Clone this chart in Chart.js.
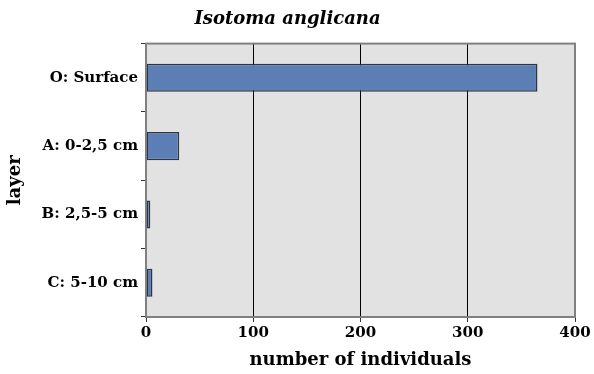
<!DOCTYPE html>
<html>
<head>
<meta charset="utf-8">
<script src="https://cdn.jsdelivr.net/npm/chart.js@4.4.1/dist/chart.umd.min.js"></script>
<style>
  html, body { margin: 0; padding: 0; background: #fff; }
  #wrap { width: 594px; height: 374px; }
</style>
</head>
<body>
<div id="wrap"><canvas id="chart" width="594" height="374"></canvas></div>
<script>
const layers = ['O: Surface', 'A: 0-2,5 cm', 'B: 2,5-5 cm', 'C: 5-10 cm'];
const individuals = [365, 31, 4, 6];
const xTicks = [0, 100, 200, 300, 400];

const serif = "'DejaVu Serif', serif";
const frameColor = '#808080';

// grey plot background and frame around the chart area
const plotFrame = {
  id: 'plotFrame',
  beforeDraw(chart) {
    const { ctx, chartArea: a } = chart;
    ctx.save();
    ctx.fillStyle = '#e2e2e2';
    ctx.fillRect(a.left, a.top, a.right - a.left, a.bottom - a.top);
    ctx.restore();
  },
  afterDatasetsDraw(chart) {
    const { ctx, chartArea: a } = chart;
    ctx.save();
    ctx.strokeStyle = frameColor;
    ctx.lineWidth = 2;
    ctx.strokeRect(a.left, a.top, a.right - a.left, a.bottom - a.top);
    ctx.restore();
  }
};

const ctx = document.getElementById('chart').getContext('2d');
new Chart(ctx, {
  type: 'bar',
  data: {
    labels: layers,
    datasets: [{
      data: individuals,
      backgroundColor: '#5b7fb5',
      borderColor: '#2e3440',
      borderWidth: 1.5,
      borderSkipped: false,
      barPercentage: 0.41,
      categoryPercentage: 1
    }]
  },
  options: {
    indexAxis: 'y',
    responsive: false,
    animation: false,
    layout: { padding: { left: 0, right: 19, top: 0, bottom: 0 } },
    plugins: {
      legend: { display: false },
      tooltip: { enabled: false },
      title: {
        display: true,
        text: 'Isotoma anglicana',
        color: '#000',
        font: { family: serif, size: 18, weight: 'bold', style: 'italic' },
        padding: { top: 9, bottom: 13 }
      }
    },
    scales: {
      x: {
        min: 0,
        max: 400,
        afterBuildTicks(scale) {
          scale.ticks = xTicks.map(v => ({ value: v }));
        },
        afterFit(scale) { scale.height = 57; },
        grid: {
          color: c => (c.tick && (c.tick.value === 0 || c.tick.value === 400)) ? 'rgba(0,0,0,0)' : '#000',
          tickColor: '#333',
          tickLength: 5,
          lineWidth: 1
        },
        border: { color: frameColor, width: 2 },
        ticks: {
          color: '#000',
          padding: 2,
          font: { family: serif, size: 15, weight: 'bold' }
        },
        title: {
          display: true,
          text: 'number of individuals',
          color: '#000',
          font: { family: serif, size: 18, weight: 'bold' },
          padding: { top: 0, bottom: 3 }
        }
      },
      y: {
        afterFit(scale) { scale.width = 146; },
        grid: {
          offset: true,
          drawOnChartArea: false,
          tickColor: '#333',
          tickLength: 5
        },
        border: { color: frameColor, width: 2 },
        ticks: {
          color: '#000',
          padding: 3,
          font: { family: serif, size: 15, weight: 'bold' }
        },
        title: {
          display: true,
          text: 'layer',
          color: '#000',
          font: { family: serif, size: 18, weight: 'bold' },
          padding: { top: 5, bottom: 0 }
        }
      }
    }
  },
  plugins: [plotFrame]
});
</script>
</body>
</html>
